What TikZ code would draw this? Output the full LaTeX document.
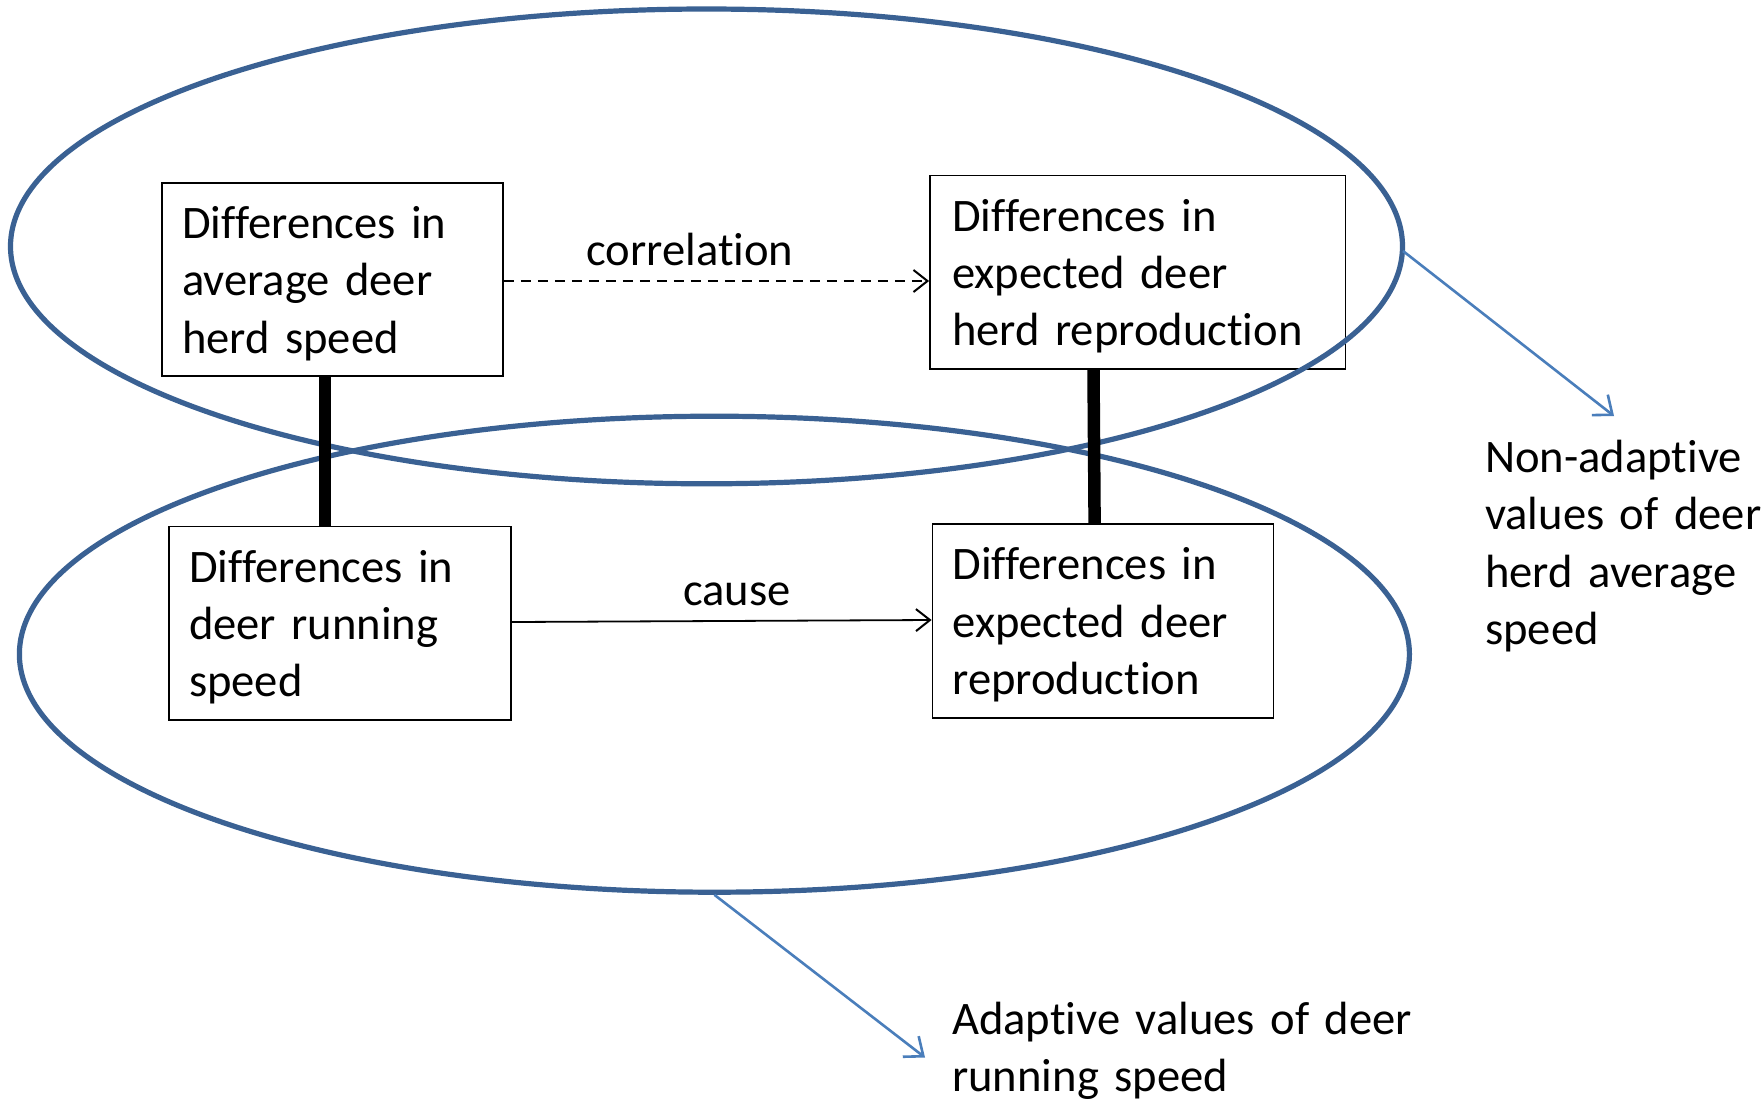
\documentclass[tikz,border=0pt]{standalone}
\usepackage{fontspec}
\setmainfont{Carlito}[Ligatures=NoCommon]
\usetikzlibrary{shapes.geometric,arrows.meta}
\definecolor{ellcol}{HTML}{3A6193}
\definecolor{arrcol}{HTML}{4A7EBB}
\newcommand{\topstrut}{\rule{0pt}{40pt}}
\begin{document}
\begin{tikzpicture}[x=1pt,y=-1pt,
  every node/.style={font=\fontsize{46.6}{57.4}\selectfont},
  boxnode/.style={draw=black,line width=1.8pt,rectangle,inner xsep=20pt,inner ysep=0pt,align=left},
  ellnode/.style={draw=ellcol,line width=5.2pt,ellipse,inner sep=0pt},
  thickbar/.style={line width=12.5pt,black},
  plainarrow/.style={line width=1.8pt,-{Straight Barb[length=14pt,width=22pt,line width=2pt]}},
  dasharrow/.style={plainarrow,dash pattern=on 10pt off 7pt},
  bluearrow/.style={draw=arrcol,line width=2.6pt,-{Straight Barb[length=16pt,width=26pt,line width=2.6pt]}},
  freelabel/.style={anchor=base west,inner sep=0pt,align=left}
]
\useasboundingbox (0,0) rectangle (1764,1101);
\fill[white] (0,0) rectangle (1764,1101);

% boxes
\node[boxnode,text width=301pt,minimum width=341pt,minimum height=193pt] (b1) at (332.5,279.5)
  {\topstrut Differences in\\average deer\\herd speed};
\node[boxnode,inner xsep=22pt,text width=371.5pt,minimum width=415.5pt,minimum height=193.5pt] (b2) at (1137.75,272.25)
  {\topstrut Differences in\\expected deer\\herd reproduction};
\node[boxnode,text width=302pt,minimum width=342pt,minimum height=193.5pt] (b3) at (340,623.25)
  {\topstrut Differences in\\deer running\\speed};
\node[boxnode,text width=301pt,minimum width=341pt,minimum height=194pt] (b4) at (1103,621)
  {\topstrut Differences in\\expected deer\\reproduction};

% ellipses
\node[ellnode,minimum width=1392pt,minimum height=474.8pt] (e1) at (706.5,246.4) {};
\node[ellnode,minimum width=1390pt,minimum height=476pt] (e2) at (714.4,654.2) {};

% thick links
\draw[thickbar] (325,0 |- b1.south) -- (325,0 |- b3.north);
\draw[thickbar] (1093.5,0 |- b2.south) -- (1094.6,0 |- b4.north);

% arrows between boxes
\draw[dasharrow] (b1.east |- 0,281) -- (b2.west |- 0,281);
\node[anchor=base,inner sep=0pt] (lcorr) at (690,265.7) {correlation};
\draw[plainarrow] (b3.east |- 0,622) -- (b4.west |- 0,620);
\node[anchor=base,inner sep=0pt] (lcause) at (737,605) {cause};

% pointers
\coordinate (p1s) at (1403,251);
\coordinate (p1e) at (1614,416);
\draw[bluearrow] (p1s) -- (p1e);
\coordinate (p2e) at (925,1057.5);
\draw[bluearrow] (e2.south) -- (p2e);

\node[freelabel,text width=280pt] (tna) at (1485,472.5)
  {Non-adaptive\\values of deer\\herd average\\speed};
\node[freelabel,text width=500pt] (tad) at (952,1034)
  {Adaptive values of deer\\running speed};
\end{tikzpicture}
\end{document}
